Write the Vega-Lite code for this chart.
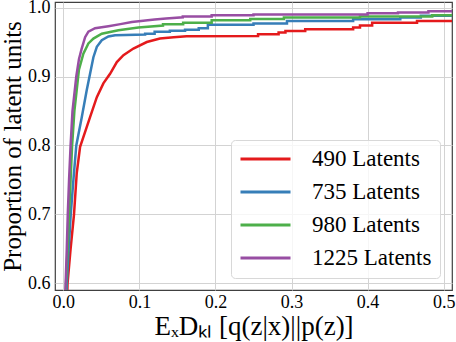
{
  "$schema": "https://vega.github.io/schema/vega-lite/v6.json",
  "width": 397,
  "height": 288,
  "autosize": {"type": "none"},
  "padding": {"left": 55, "top": 2, "right": 4, "bottom": 52},
  "config": {
    "font": "Liberation Serif",
    "view": {"stroke": "#404040", "strokeWidth": 1.2},
    "axis": {
      "labelFont": "Liberation Serif",
      "titleFont": "Liberation Serif",
      "labelFontSize": 18,
      "labelColor": "#000000",
      "titleColor": "#000000",
      "titleFontWeight": "normal",
      "gridColor": "#d3d3d3",
      "gridWidth": 1,
      "domain": false,
      "ticks": false
    }
  },
  "data": {
    "values": [
      {"s": "490 Latents", "x": 0.003, "y": 0.5},
      {"s": "490 Latents", "x": 0.0055, "y": 0.6},
      {"s": "490 Latents", "x": 0.0095, "y": 0.65},
      {"s": "490 Latents", "x": 0.014, "y": 0.7},
      {"s": "490 Latents", "x": 0.0176, "y": 0.76},
      {"s": "490 Latents", "x": 0.022, "y": 0.798},
      {"s": "490 Latents", "x": 0.0308, "y": 0.827},
      {"s": "490 Latents", "x": 0.0351, "y": 0.841},
      {"s": "490 Latents", "x": 0.044, "y": 0.87},
      {"s": "490 Latents", "x": 0.0526, "y": 0.89},
      {"s": "490 Latents", "x": 0.0614, "y": 0.904},
      {"s": "490 Latents", "x": 0.0703, "y": 0.921},
      {"s": "490 Latents", "x": 0.079, "y": 0.931},
      {"s": "490 Latents", "x": 0.0921, "y": 0.9406},
      {"s": "490 Latents", "x": 0.1097, "y": 0.95},
      {"s": "490 Latents", "x": 0.127, "y": 0.955},
      {"s": "490 Latents", "x": 0.145, "y": 0.957},
      {"s": "490 Latents", "x": 0.162, "y": 0.9584},
      {"s": "490 Latents", "x": 0.256, "y": 0.9588},
      {"s": "490 Latents", "x": 0.256, "y": 0.9613},
      {"s": "490 Latents", "x": 0.283, "y": 0.9613},
      {"s": "490 Latents", "x": 0.283, "y": 0.9638},
      {"s": "490 Latents", "x": 0.292, "y": 0.9638},
      {"s": "490 Latents", "x": 0.292, "y": 0.966},
      {"s": "490 Latents", "x": 0.318, "y": 0.966},
      {"s": "490 Latents", "x": 0.318, "y": 0.9686},
      {"s": "490 Latents", "x": 0.381, "y": 0.9686},
      {"s": "490 Latents", "x": 0.381, "y": 0.971},
      {"s": "490 Latents", "x": 0.39, "y": 0.971},
      {"s": "490 Latents", "x": 0.39, "y": 0.974},
      {"s": "490 Latents", "x": 0.406, "y": 0.974},
      {"s": "490 Latents", "x": 0.406, "y": 0.978},
      {"s": "490 Latents", "x": 0.465, "y": 0.978},
      {"s": "490 Latents", "x": 0.465, "y": 0.9806},
      {"s": "490 Latents", "x": 0.52, "y": 0.9806},

      {"s": "735 Latents", "x": 0.002, "y": 0.5},
      {"s": "735 Latents", "x": 0.0045, "y": 0.6},
      {"s": "735 Latents", "x": 0.007, "y": 0.65},
      {"s": "735 Latents", "x": 0.0097, "y": 0.7},
      {"s": "735 Latents", "x": 0.0132, "y": 0.75},
      {"s": "735 Latents", "x": 0.017, "y": 0.8},
      {"s": "735 Latents", "x": 0.0242, "y": 0.841},
      {"s": "735 Latents", "x": 0.0307, "y": 0.88},
      {"s": "735 Latents", "x": 0.0351, "y": 0.904},
      {"s": "735 Latents", "x": 0.0395, "y": 0.928},
      {"s": "735 Latents", "x": 0.044, "y": 0.943},
      {"s": "735 Latents", "x": 0.0505, "y": 0.9526},
      {"s": "735 Latents", "x": 0.0592, "y": 0.958},
      {"s": "735 Latents", "x": 0.068, "y": 0.96},
      {"s": "735 Latents", "x": 0.1075, "y": 0.961},
      {"s": "735 Latents", "x": 0.1075, "y": 0.962},
      {"s": "735 Latents", "x": 0.12, "y": 0.962},
      {"s": "735 Latents", "x": 0.12, "y": 0.965},
      {"s": "735 Latents", "x": 0.14, "y": 0.965},
      {"s": "735 Latents", "x": 0.14, "y": 0.9665},
      {"s": "735 Latents", "x": 0.16, "y": 0.9665},
      {"s": "735 Latents", "x": 0.16, "y": 0.968},
      {"s": "735 Latents", "x": 0.178, "y": 0.968},
      {"s": "735 Latents", "x": 0.178, "y": 0.97},
      {"s": "735 Latents", "x": 0.19, "y": 0.97},
      {"s": "735 Latents", "x": 0.19, "y": 0.975},
      {"s": "735 Latents", "x": 0.25, "y": 0.975},
      {"s": "735 Latents", "x": 0.25, "y": 0.977},
      {"s": "735 Latents", "x": 0.294, "y": 0.977},
      {"s": "735 Latents", "x": 0.294, "y": 0.9806},
      {"s": "735 Latents", "x": 0.381, "y": 0.9806},
      {"s": "735 Latents", "x": 0.381, "y": 0.983},
      {"s": "735 Latents", "x": 0.443, "y": 0.983},
      {"s": "735 Latents", "x": 0.443, "y": 0.9855},
      {"s": "735 Latents", "x": 0.47, "y": 0.9855},
      {"s": "735 Latents", "x": 0.47, "y": 0.988},
      {"s": "735 Latents", "x": 0.52, "y": 0.988},

      {"s": "980 Latents", "x": 0.001, "y": 0.5},
      {"s": "980 Latents", "x": 0.0035, "y": 0.6},
      {"s": "980 Latents", "x": 0.0055, "y": 0.65},
      {"s": "980 Latents", "x": 0.0075, "y": 0.7},
      {"s": "980 Latents", "x": 0.0095, "y": 0.75},
      {"s": "980 Latents", "x": 0.0115, "y": 0.8},
      {"s": "980 Latents", "x": 0.0145, "y": 0.85},
      {"s": "980 Latents", "x": 0.0175, "y": 0.88},
      {"s": "980 Latents", "x": 0.0205, "y": 0.91},
      {"s": "980 Latents", "x": 0.0263, "y": 0.933},
      {"s": "980 Latents", "x": 0.0329, "y": 0.948},
      {"s": "980 Latents", "x": 0.0395, "y": 0.955},
      {"s": "980 Latents", "x": 0.0505, "y": 0.962},
      {"s": "980 Latents", "x": 0.0724, "y": 0.967},
      {"s": "980 Latents", "x": 0.0987, "y": 0.971},
      {"s": "980 Latents", "x": 0.131, "y": 0.974},
      {"s": "980 Latents", "x": 0.131, "y": 0.976},
      {"s": "980 Latents", "x": 0.1575, "y": 0.976},
      {"s": "980 Latents", "x": 0.1575, "y": 0.978},
      {"s": "980 Latents", "x": 0.195, "y": 0.978},
      {"s": "980 Latents", "x": 0.195, "y": 0.9816},
      {"s": "980 Latents", "x": 0.2457, "y": 0.9816},
      {"s": "980 Latents", "x": 0.2457, "y": 0.9835},
      {"s": "980 Latents", "x": 0.29, "y": 0.9835},
      {"s": "980 Latents", "x": 0.29, "y": 0.9855},
      {"s": "980 Latents", "x": 0.39, "y": 0.9855},
      {"s": "980 Latents", "x": 0.39, "y": 0.987},
      {"s": "980 Latents", "x": 0.485, "y": 0.987},
      {"s": "980 Latents", "x": 0.485, "y": 0.989},
      {"s": "980 Latents", "x": 0.52, "y": 0.989},

      {"s": "1225 Latents", "x": 0.0, "y": 0.5},
      {"s": "1225 Latents", "x": 0.003, "y": 0.6},
      {"s": "1225 Latents", "x": 0.0045, "y": 0.65},
      {"s": "1225 Latents", "x": 0.0058, "y": 0.7},
      {"s": "1225 Latents", "x": 0.0075, "y": 0.75},
      {"s": "1225 Latents", "x": 0.0095, "y": 0.8},
      {"s": "1225 Latents", "x": 0.012, "y": 0.85},
      {"s": "1225 Latents", "x": 0.017, "y": 0.9},
      {"s": "1225 Latents", "x": 0.0205, "y": 0.925},
      {"s": "1225 Latents", "x": 0.024, "y": 0.94},
      {"s": "1225 Latents", "x": 0.0286, "y": 0.957},
      {"s": "1225 Latents", "x": 0.0329, "y": 0.965},
      {"s": "1225 Latents", "x": 0.0417, "y": 0.97},
      {"s": "1225 Latents", "x": 0.0592, "y": 0.973},
      {"s": "1225 Latents", "x": 0.075, "y": 0.976},
      {"s": "1225 Latents", "x": 0.09, "y": 0.979},
      {"s": "1225 Latents", "x": 0.105, "y": 0.981},
      {"s": "1225 Latents", "x": 0.12, "y": 0.9826},
      {"s": "1225 Latents", "x": 0.135, "y": 0.984},
      {"s": "1225 Latents", "x": 0.157, "y": 0.986},
      {"s": "1225 Latents", "x": 0.157, "y": 0.987},
      {"s": "1225 Latents", "x": 0.195, "y": 0.987},
      {"s": "1225 Latents", "x": 0.195, "y": 0.989},
      {"s": "1225 Latents", "x": 0.25, "y": 0.989},
      {"s": "1225 Latents", "x": 0.25, "y": 0.99},
      {"s": "1225 Latents", "x": 0.4, "y": 0.99},
      {"s": "1225 Latents", "x": 0.4, "y": 0.9917},
      {"s": "1225 Latents", "x": 0.44, "y": 0.9917},
      {"s": "1225 Latents", "x": 0.44, "y": 0.993},
      {"s": "1225 Latents", "x": 0.48, "y": 0.993},
      {"s": "1225 Latents", "x": 0.48, "y": 0.9946},
      {"s": "1225 Latents", "x": 0.52, "y": 0.9946}
    ]
  },
  "mark": {"type": "line", "strokeWidth": 2.5, "clip": true},
  "encoding": {
    "x": {
      "field": "x",
      "type": "quantitative",
      "scale": {"domain": [-0.011, 0.511], "nice": false, "zero": false},
      "axis": {
        "values": [0, 0.1, 0.2, 0.3, 0.4, 0.5],
        "format": ".1f",
        "title": "EₓDₖₗ [q(z|x)||p(z)]",
        "titleFontSize": 27,
        "labelPadding": 3,
        "titlePadding": 2
      }
    },
    "y": {
      "field": "y",
      "type": "quantitative",
      "scale": {"domain": [0.5903, 1.0081], "nice": false, "zero": false},
      "axis": {
        "values": [0.6, 0.7, 0.8, 0.9, 1.0],
        "format": ".1f",
        "title": "Proportion of latent units",
        "titleFontSize": 25,
        "labelPadding": 5,
        "titlePadding": 2
      }
    },
    "order": {"field": "s"},
    "color": {
      "field": "s",
      "type": "nominal",
      "sort": ["490 Latents", "735 Latents", "980 Latents", "1225 Latents"],
      "scale": {
        "domain": ["490 Latents", "735 Latents", "980 Latents", "1225 Latents"],
        "range": ["#e41a1c", "#377eb8", "#4daf4a", "#984ea3"]
      },
      "legend": {
        "title": null,
        "orient": "bottom-right",
        "offset": 12,
        "symbolType": "stroke",
        "symbolSize": 2500,
        "symbolStrokeWidth": 3,
        "clipHeight": 22,
        "labelFont": "Liberation Serif",
        "labelFontSize": 23,
        "labelOffset": 20,
        "rowPadding": 10,
        "padding": 8,
        "fillColor": "rgba(255,255,255,0.8)",
        "strokeColor": "#d8d8d8",
        "cornerRadius": 4
      }
    }
  }
}
